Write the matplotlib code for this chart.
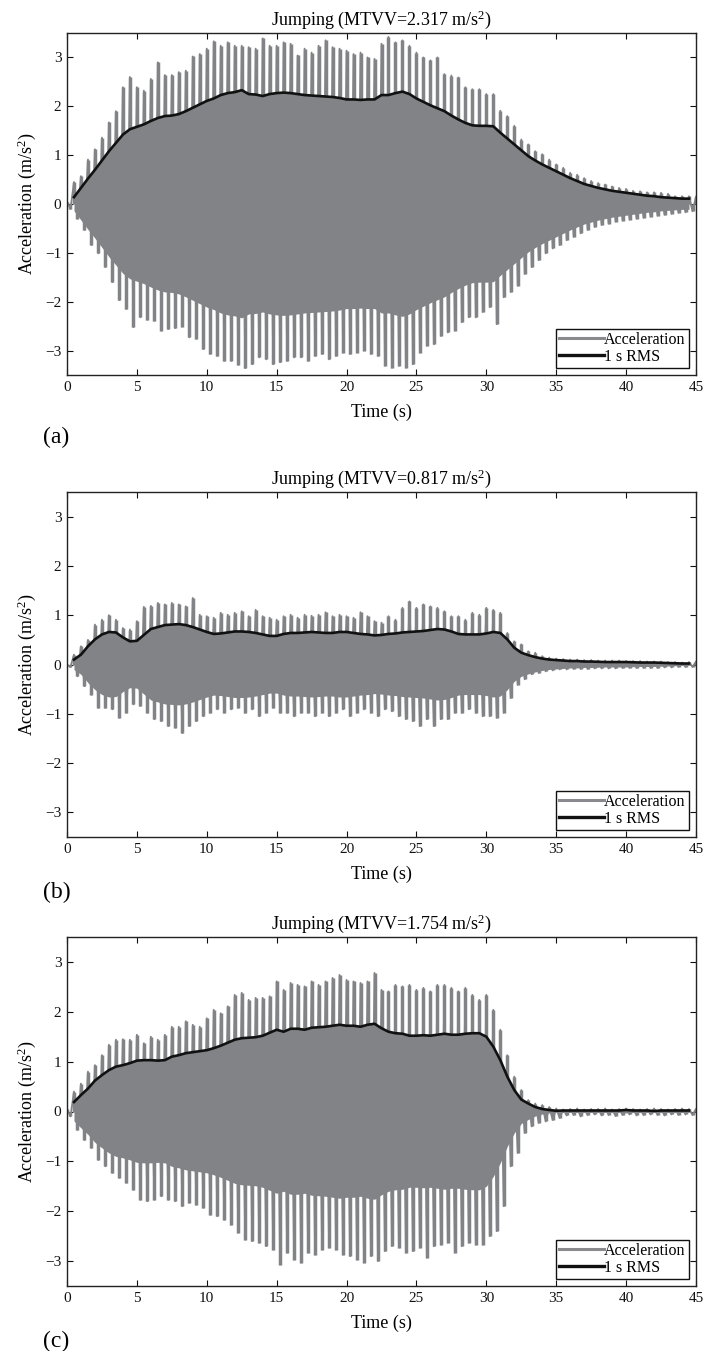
import numpy as np
import matplotlib
matplotlib.use("Agg")
import matplotlib.pyplot as plt
from matplotlib.lines import Line2D

plt.rcParams['font.family'] = ['Liberation Serif', 'DejaVu Serif']
plt.rcParams['mathtext.fontset'] = 'custom'
plt.rcParams['mathtext.rm'] = 'Liberation Serif'
plt.rcParams['mathtext.it'] = 'Liberation Serif:italic'
plt.rcParams['mathtext.default'] = 'regular'

# ---------------- data ----------------
titles = ["Jumping (MTVV=2.317 m/s$^2$)",
          "Jumping (MTVV=0.817 m/s$^2$)",
          "Jumping (MTVV=1.754 m/s$^2$)"]
panel_labels = ["(a)", "(b)", "(c)"]
xticks = [0, 5, 10, 15, 20, 25, 30, 35, 40, 45]
yticks = [-3, -2, -1, 0, 1, 2, 3]

# positive peaks of the acceleration record, every 0.5 s from 0 to 45 s
peaks_pos_a = [0.05, 0.45, 0.57, 0.91, 1.12, 1.36, 1.67, 1.90, 2.39, 2.60,
               2.39, 2.32, 2.56, 2.90, 2.64, 2.64, 2.70, 2.73, 3.02, 3.07,
               3.18, 3.33, 3.24, 3.31, 3.24, 3.24, 3.21, 3.18, 3.39, 3.24,
               3.24, 3.31, 3.28, 3.04, 3.18, 3.10, 3.24, 3.35, 3.21, 3.18,
               3.14, 3.07, 3.10, 3.00, 2.97, 3.28, 3.42, 3.31, 3.35, 3.24,
               3.10, 3.00, 2.94, 3.00, 2.66, 2.63, 2.59, 2.39, 2.35, 2.35,
               2.25, 2.25, 1.91, 1.80, 1.60, 1.32, 1.22, 1.08, 1.02, 0.91,
               0.81, 0.74, 0.64, 0.60, 0.53, 0.47, 0.43, 0.40, 0.36, 0.33,
               0.31, 0.27, 0.26, 0.24, 0.24, 0.23, 0.21, 0.16, 0.16, 0.16,
               0.15]
# negative peaks, every 0.5 s from 0.25 to 44.75 s
peaks_neg_a = [-0.10, -0.30, -0.53, -0.84, -1.01, -1.29, -1.60, -1.97, -2.15, -2.52,
               -2.32, -2.37, -2.39, -2.59, -2.56, -2.54, -2.51, -2.73, -2.76, -2.97,
               -3.07, -3.11, -3.21, -3.21, -3.29, -3.36, -3.28, -3.14, -3.18, -3.28,
               -3.24, -3.21, -3.14, -3.14, -3.21, -3.11, -3.07, -3.18, -3.11, -3.04,
               -3.07, -3.04, -3.00, -3.07, -3.11, -3.31, -3.35, -3.31, -3.35, -3.28,
               -3.04, -2.90, -2.87, -2.70, -2.63, -2.59, -2.42, -2.32, -2.32, -2.21,
               -2.11, -2.46, -1.91, -1.80, -1.67, -1.43, -1.29, -1.15, -1.01, -0.91,
               -0.84, -0.74, -0.67, -0.60, -0.53, -0.47, -0.43, -0.40, -0.36, -0.34,
               -0.32, -0.30, -0.28, -0.26, -0.24, -0.22, -0.20, -0.18, -0.17, -0.15]
# 1 s RMS, every 0.5 s from 0.5 to 44.5 s
rms_a = [0.14, 0.33, 0.52, 0.70, 0.89, 1.08, 1.25, 1.42, 1.53,
         1.58, 1.63, 1.70, 1.76, 1.80, 1.81, 1.84, 1.90, 1.97, 2.04,
         2.11, 2.16, 2.23, 2.27, 2.29, 2.33, 2.25, 2.24, 2.21, 2.25,
         2.27, 2.28, 2.27, 2.25, 2.23, 2.22, 2.21, 2.20, 2.19, 2.17,
         2.14, 2.14, 2.13, 2.14, 2.14, 2.23, 2.23, 2.27, 2.30, 2.25,
         2.16, 2.09, 2.02, 1.96, 1.90, 1.81, 1.73, 1.66, 1.61, 1.60,
         1.60, 1.59, 1.46, 1.34, 1.22, 1.10, 0.98, 0.89, 0.81, 0.74,
         0.67, 0.60, 0.53, 0.47, 0.41, 0.37, 0.33, 0.30, 0.27, 0.25,
         0.23, 0.21, 0.19, 0.17, 0.16, 0.14, 0.13, 0.12, 0.11, 0.11]

peaks_pos_b = [0.00, 0.20, 0.37, 0.50, 0.81, 0.91, 1.00, 0.91, 0.74, 0.71,
               0.88, 1.17, 1.19, 1.25, 1.22, 1.25, 1.22, 1.18, 1.35, 1.01,
               0.98, 0.95, 1.05, 1.01, 1.05, 1.08, 0.98, 1.11, 0.98, 0.95,
               0.91, 0.98, 1.01, 0.95, 1.01, 0.99, 1.01, 1.06, 0.98, 1.01,
               0.98, 0.95, 1.06, 0.98, 0.88, 0.85, 0.98, 0.91, 1.15, 1.28,
               1.15, 1.22, 1.18, 1.15, 1.08, 0.98, 0.98, 0.91, 1.05, 1.01,
               1.15, 1.11, 1.05, 0.64, 0.47, 0.41, 0.27, 0.24, 0.17, 0.14,
               0.12, 0.11, 0.10, 0.10, 0.09, 0.09, 0.08, 0.08, 0.08, 0.08,
               0.07, 0.07, 0.07, 0.06, 0.06, 0.06, 0.05, 0.05, 0.04, 0.05,
               0.06]
peaks_neg_b = [-0.05, -0.24, -0.44, -0.61, -0.88, -0.88, -0.91, -1.08, -0.98, -0.81,
               -0.84, -0.98, -1.11, -1.15, -1.25, -1.28, -1.39, -1.25, -1.15, -1.05,
               -0.98, -0.91, -0.98, -0.91, -0.88, -0.98, -0.91, -1.05, -0.98, -0.88,
               -0.98, -0.98, -1.05, -0.98, -0.98, -1.05, -0.98, -1.05, -0.98, -0.91,
               -1.05, -0.98, -0.91, -0.98, -1.05, -0.91, -0.95, -1.05, -1.11, -1.15,
               -1.25, -1.11, -1.25, -1.11, -1.11, -0.98, -0.98, -0.91, -0.98, -1.05,
               -1.05, -1.08, -0.98, -0.68, -0.41, -0.30, -0.20, -0.17, -0.14, -0.12,
               -0.10, -0.10, -0.09, -0.09, -0.09, -0.08, -0.08, -0.08, -0.08, -0.07,
               -0.07, -0.07, -0.07, -0.07, -0.07, -0.06, -0.06, -0.05, -0.05, -0.05]
rms_b = [0.10, 0.20, 0.37, 0.51, 0.61, 0.66, 0.65, 0.55, 0.47,
         0.48, 0.60, 0.72, 0.76, 0.80, 0.81, 0.82, 0.80, 0.76, 0.71,
         0.66, 0.62, 0.63, 0.65, 0.67, 0.67, 0.66, 0.64, 0.61, 0.58,
         0.58, 0.62, 0.64, 0.64, 0.65, 0.66, 0.65, 0.64, 0.64, 0.66,
         0.66, 0.64, 0.62, 0.61, 0.59, 0.60, 0.62, 0.63, 0.65, 0.66,
         0.67, 0.68, 0.70, 0.72, 0.71, 0.67, 0.62, 0.61, 0.61, 0.61,
         0.63, 0.66, 0.64, 0.51, 0.34, 0.24, 0.19, 0.15, 0.12, 0.10,
         0.09, 0.08, 0.07, 0.07, 0.06, 0.06, 0.055, 0.05, 0.05, 0.05,
         0.05, 0.045, 0.04, 0.04, 0.04, 0.035, 0.03, 0.025, 0.02, 0.02]

peaks_pos_c = [0.05, 0.40, 0.56, 0.80, 0.93, 1.13, 1.34, 1.44, 1.45, 1.44,
               1.54, 1.37, 1.50, 1.44, 1.54, 1.70, 1.70, 1.81, 1.74, 1.70,
               1.87, 2.04, 1.97, 2.11, 2.34, 2.38, 2.24, 2.28, 2.28, 2.31,
               2.61, 2.44, 2.58, 2.54, 2.51, 2.61, 2.54, 2.61, 2.68, 2.74,
               2.64, 2.61, 2.58, 2.61, 2.78, 2.44, 2.41, 2.54, 2.51, 2.54,
               2.44, 2.48, 2.41, 2.54, 2.54, 2.48, 2.41, 2.48, 2.34, 2.24,
               2.34, 2.04, 1.64, 1.13, 0.70, 0.43, 0.23, 0.16, 0.13, 0.09,
               0.06, 0.04, 0.05, 0.06, 0.04, 0.05, 0.05, 0.06, 0.04, 0.05,
               0.06, 0.05, 0.04, 0.05, 0.06, 0.05, 0.04, 0.05, 0.06, 0.05,
               0.05]
peaks_neg_c = [-0.10, -0.37, -0.57, -0.73, -0.97, -1.10, -1.23, -1.33, -1.43, -1.57,
               -1.77, -1.80, -1.77, -1.70, -1.77, -1.80, -1.90, -1.83, -1.87, -1.93,
               -2.07, -2.10, -2.17, -2.27, -2.43, -2.57, -2.60, -2.63, -2.70, -2.77,
               -3.07, -2.83, -2.97, -3.03, -2.83, -2.87, -2.77, -2.73, -2.77, -2.87,
               -2.90, -2.97, -3.03, -2.90, -3.00, -2.80, -2.70, -2.73, -2.83, -2.80,
               -2.73, -2.93, -2.70, -2.67, -2.63, -2.83, -2.70, -2.63, -2.67, -2.67,
               -2.50, -2.40, -1.90, -1.10, -0.83, -0.43, -0.30, -0.23, -0.20, -0.17,
               -0.13, -0.08, -0.07, -0.10, -0.07, -0.06, -0.08, -0.07, -0.09, -0.07,
               -0.06, -0.08, -0.07, -0.06, -0.07, -0.08, -0.06, -0.07, -0.06, -0.07]
rms_c = [0.19, 0.33, 0.46, 0.62, 0.73, 0.83, 0.90, 0.93, 0.97,
         1.02, 1.03, 1.03, 1.02, 1.03, 1.10, 1.13, 1.17, 1.19, 1.21,
         1.23, 1.27, 1.32, 1.38, 1.44, 1.47, 1.48, 1.49, 1.52, 1.58,
         1.64, 1.60, 1.66, 1.66, 1.64, 1.68, 1.69, 1.70, 1.72, 1.74,
         1.72, 1.72, 1.70, 1.74, 1.76, 1.67, 1.60, 1.57, 1.56, 1.52,
         1.52, 1.53, 1.52, 1.54, 1.56, 1.54, 1.54, 1.56, 1.57, 1.57,
         1.50, 1.30, 1.03, 0.70, 0.43, 0.24, 0.16, 0.09, 0.05, 0.03,
         0.015, 0.02, 0.02, 0.02, 0.02, 0.02, 0.02, 0.02, 0.02, 0.02,
         0.03, 0.02, 0.02, 0.02, 0.01, 0.02, 0.02, 0.02, 0.02, 0.02]

panels = [(peaks_pos_a, peaks_neg_a, rms_a),
          (peaks_pos_b, peaks_neg_b, rms_b),
          (peaks_pos_c, peaks_neg_c, rms_c)]

# ---------------- figure ----------------
W, H = 703, 1351
fig = plt.figure(figsize=(W / 100, H / 100), dpi=100)

# axes boxes in pixels: (left, top, right, bottom)
boxes = [(67, 33, 696, 375), (67, 492, 696, 837), (67, 937, 696, 1286)]
label_y = [437, 892, 1341]

acc_color = '#828387'
rms_color = '#111111'
for i, (pp, pn, rms) in enumerate(panels):
    l, t, r, b = boxes[i]
    ax = fig.add_axes([l / W, 1 - b / H, (r - l) / W, (b - t) / H])

    pp = np.asarray(pp)
    pn = np.asarray(pn)
    rms = np.asarray(rms)
    t_pos = np.arange(len(pp)) * 0.5
    t_neg = np.arange(len(pn)) * 0.5 + 0.25
    t_rms = 0.5 + np.arange(len(rms)) * 0.5

    # dense oscillation: solid band of the signal within its running RMS level
    ax.fill_between(t_rms, -rms, rms, color=acc_color, lw=0, zorder=1)
    # zig-zag through the successive positive / negative peaks
    tt = np.empty(len(pp) + len(pn))
    yy = np.empty(len(pp) + len(pn))
    tt[0::2] = t_pos
    tt[1::2] = t_neg
    yy[0::2] = pp
    yy[1::2] = pn
    ax.plot(tt, yy, color=acc_color, lw=1.3, zorder=2)
    # individual peak spikes
    ax.vlines(t_pos, 0, pp, color=acc_color, lw=2.5, zorder=2)
    ax.vlines(t_neg, pn, 0, color=acc_color, lw=2.5, zorder=2)

    ax.plot(t_rms, rms, color=rms_color, lw=1.9, zorder=3)

    ax.set_xlim(0, 45)
    ax.set_ylim(-3.5, 3.5)
    ax.set_xticks(xticks)
    ax.set_yticks(yticks)
    ax.set_xticklabels([str(v) for v in xticks])
    ax.set_yticklabels([str(v) if v >= 0 else '\u2212' + str(-v) for v in yticks])
    ax.tick_params(direction='in', length=4, width=0.8, top=True, right=True,
                   labelsize=11, pad=4, colors='#111111')
    for sp in ax.spines.values():
        sp.set_linewidth(1.0)
        sp.set_color('#222222')

    ax.set_title(titles[i], fontsize=13, pad=6)
    ax.set_xlabel('Time (s)', fontsize=13, labelpad=7)
    ax.set_ylabel('Acceleration (m/s$^2$)', fontsize=13, labelpad=5)

    handles = [Line2D([], [], color='#8a8a8e', lw=2.2),
               Line2D([], [], color=rms_color, lw=2.4)]
    leg = ax.legend(handles, ['Acceleration', '1 s RMS'], loc='lower right',
                    fontsize=11.5, frameon=True, fancybox=False,
                    edgecolor='#111111', framealpha=1, handlelength=2.8,
                    handletextpad=0.0, labelspacing=0.05, borderpad=0.2,
                    borderaxespad=0.45)
    leg.get_frame().set_linewidth(1.0)

    fig.text(43 / W, 1 - label_y[i] / H, panel_labels[i], fontsize=17,
             ha='left', va='center')

fig.savefig('out.png', dpi=100)
